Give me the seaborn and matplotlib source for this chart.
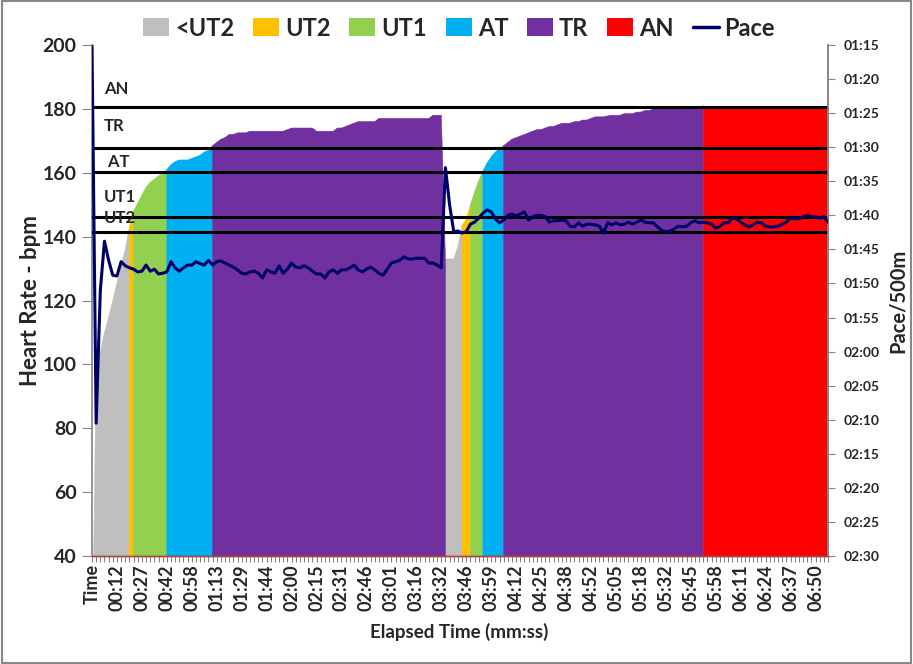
import numpy as np
import pandas as pd
import matplotlib
matplotlib.use("Agg")
import matplotlib.pyplot as plt
from matplotlib.patches import Patch, Rectangle
from matplotlib.lines import Line2D
import seaborn as sns

# Style
sns.set_theme(style="white")
plt.rcParams['font.family'] = ['Lato', 'DejaVu Sans']
plt.rcParams['font.weight'] = 'bold'
plt.rcParams['axes.labelweight'] = 'bold'

# Heart rate per stroke (bpm)
hr = [0, 99, 104, 110, 115, 120, 125.5, 131, 136, 143,
      148, 150.5, 153, 155.5, 157, 158, 159, 160, 161, 162.5,
      163.5, 164, 164, 164, 164.5, 165, 165.5, 166.5, 167, 168.5,
      169.5, 170.5, 171, 172, 172, 172.5, 172.5, 172.5, 173, 173,
      173, 173, 173, 173, 173, 173, 173, 173.5, 174, 174,
      174, 174, 174, 174, 173, 173, 173, 173, 173, 174,
      174, 174.5, 175, 175.5, 176, 176, 176, 176, 176, 177,
      177, 177, 177, 177, 177, 177, 177, 177, 177, 177,
      177, 177, 178, 178, 178, 133, 133, 133, 137, 143.5,
      145.5, 150, 154, 157.5, 160.5, 163, 165, 166.5, 167.5, 168.5,
      169.5, 170.5, 171, 171.5, 172, 172.5, 173, 173.5, 173.5, 174,
      174.5, 174.5, 175, 175.5, 175.5, 175.5, 176, 176, 176.5, 176.5,
      177, 177.5, 177.5, 177.5, 177.8, 178, 178, 178, 178.5, 178.5,
      178.5, 179, 179, 179.5, 179.5, 180, 180, 180, 180, 180,
      180, 180, 180, 180, 180, 180, 180, 181, 181, 181,
      181, 181, 181, 181, 181, 181, 181, 181, 181, 181,
      181, 181, 181, 181, 181, 181, 181, 181, 181, 181,
      181, 181, 181, 181, 181, 181, 181, 181]

# Pace per stroke (seconds / 500m)
pace = [75, 130.5, 111, 103.8, 106.6, 108.8, 108.9, 106.8, 107.4, 107.7,
        107.9, 108.3, 108.2, 107.3, 108.2, 107.9, 108.6, 108.5, 108.3, 106.8,
        107.7, 108.2, 107.7, 107.3, 107.3, 106.8, 107.1, 107.3, 106.6, 107.3,
        106.8, 106.7, 107.0, 107.3, 107.6, 108.0, 108.5, 108.6, 108.3, 108.2,
        108.5, 109.2, 108.0, 108.3, 108.5, 107.4, 108.5, 107.9, 107.0, 107.6,
        107.7, 107.4, 107.7, 108.2, 108.6, 108.6, 109.2, 108.3, 108.0, 108.5,
        108.0, 108.0, 107.7, 107.3, 108.0, 108.3, 107.9, 107.6, 108.0, 108.5,
        108.8, 107.9, 107.0, 106.8, 106.6, 106.1, 106.4, 106.4, 106.3, 106.3,
        106.3, 107.0, 107.0, 107.3, 107.7, 93.0, 98.5, 102.4, 102.3, 102.6,
        102.4, 101.3, 101.0, 100.4, 99.7, 99.2, 99.5, 100.5, 101.1, 100.7,
        100.0, 99.8, 100.1, 99.8, 99.5, 100.7, 100.2, 100.0, 100.0, 100.2,
        101.0, 100.8, 100.8, 100.7, 100.8, 101.6, 101.7, 101.1, 101.6, 101.3,
        101.3, 101.4, 101.6, 102.6, 101.1, 101.4, 101.1, 101.4, 101.3, 101.0,
        101.3, 101.0, 100.7, 101.0, 101.1, 101.1, 101.7, 102.2, 102.4, 102.3,
        102.0, 101.6, 101.7, 101.6, 101.1, 100.8, 101.1, 101.0, 101.1, 101.3,
        101.9, 101.6, 101.1, 101.1, 100.4, 100.5, 101.0, 101.4, 101.7, 101.4,
        101.0, 101.1, 101.6, 101.7, 101.7, 101.6, 101.3, 101.0, 100.4, 100.5,
        100.5, 100.2, 100.0, 100.2, 100.2, 100.4, 100.2, 101.0]

time_labels = ["Time", "00:12", "00:27", "00:42", "00:58", "01:13", "01:29", "01:44",
               "02:00", "02:15", "02:31", "02:46", "03:01", "03:16", "03:32", "03:46",
               "03:59", "04:12", "04:25", "04:38", "04:52", "05:05", "05:18", "05:32",
               "05:45", "05:58", "06:11", "06:24", "06:37", "06:50"]
label_step = 6

zone_names = ["<UT2", "UT2", "UT1", "AT", "TR", "AN"]
zone_colors = ["#bfbfbf", "#ffc000", "#92d050", "#00b0f0", "#7030a0", "#ff0000"]
zone_limits = [141.5, 146, 160.3, 167.8, 180.5]
zone_text = ["UT2", "UT1", " AT", "TR", "AN"]
zone_text_y = [145.9, 152.4, 163.4, 174.6, 186.2]

df = pd.DataFrame({"idx": np.arange(len(hr)), "hr": hr, "pace": pace})
df["zone"] = np.digitize(df["hr"], zone_limits)

fig = plt.figure(figsize=(9.13, 6.64), dpi=100)
ax = fig.add_axes([92/913, 1-556/664, 736/913, 511/664])
ax2 = ax.twinx()

# Zone areas: each segment takes the colour of the zone it starts in
prev_zone = df["zone"].shift(1)
for k, col in enumerate(zone_colors):
    mask = (df["zone"] == k) | (prev_zone == k)
    ax.fill_between(df["idx"], 0, df["hr"], where=mask, color=col,
                    lw=0.4, edgecolor=col, zorder=1)

for lim in zone_limits:
    ax.axhline(lim, color="black", lw=2.2, zorder=3)
for t, yv in zip(zone_text, zone_text_y):
    ax.text(2.9, yv, t, fontsize=12, fontweight="bold", va="center", ha="left", zorder=4)

ax.set_xlim(0, len(hr) - 1)
ax.set_ylim(40, 200)
ax.set_yticks(range(40, 201, 20))
ax.set_xticks(np.arange(0, len(time_labels) * label_step, label_step))
ax.set_xticklabels(time_labels, rotation=90, fontsize=13, fontweight="bold")
ax.set_xticks(np.arange(len(hr)), minor=True)
ax.tick_params(axis="x", which="both", direction="out", length=4, width=0.8,
               color="#868686", bottom=True, pad=2)
ax.tick_params(axis="y", direction="out", length=7, width=0.8, color="#868686",
               labelsize=14, pad=4, left=True)
for lab in ax.get_yticklabels():
    lab.set_fontweight("bold")
ax.grid(False)

# Pace on secondary axis
sns.lineplot(x=df["idx"], y=df["pace"], ax=ax2, color="#000066", lw=2.2,
             legend=False, zorder=5)
ax2.set_ylim(150, 75)
ax2.set_yticks(range(75, 151, 5))
ax2.set_yticklabels([f"{v // 60:02d}:{v % 60:02d}" for v in range(75, 151, 5)],
                    fontsize=10, fontweight="bold")
ax2.tick_params(axis="y", direction="out", length=5, width=0.8, color="#868686",
                pad=6, right=True)
ax2.grid(False)
ax2.set_xlabel("")

for a in (ax, ax2):
    a.spines["top"].set_visible(False)
    a.spines["left"].set_color("#868686")
    a.spines["right"].set_color("#868686")
    a.spines["bottom"].set_color("#b04040")
    a.spines["bottom"].set_linewidth(1.0)
ax2.spines["left"].set_visible(False)

ax.set_ylabel("Heart Rate - bpm", fontsize=16, fontweight="bold")
ax.yaxis.set_label_coords(-0.084, 0.5)
ax.yaxis.label.set_va("center")
ax.set_xlabel("Elapsed Time (mm:ss)", fontsize=13.5, fontweight="bold")
ax.xaxis.set_label_coords(0.499, -0.149)
ax.xaxis.label.set_va("center")
ax2.set_ylabel("Pace/500m", fontsize=14.5, fontweight="bold")
ax2.yaxis.set_label_coords(1.095, 0.5)
ax2.yaxis.label.set_va("center")

handles = [Patch(facecolor=c, edgecolor="none") for c in zone_colors]
handles.append(Line2D([0], [0], color="#000066", lw=2.5))
fig.legend(handles, zone_names + ["Pace"], loc="center",
           bbox_to_anchor=(459/913, 1 - 28/664), ncol=7, frameon=False,
           prop={"size": 17, "weight": "bold"}, handlelength=1.1, handleheight=0.8,
           columnspacing=0.8, handletextpad=0.25)

fig.add_artist(Rectangle((0.002, 0.002), 0.996, 0.996, transform=fig.transFigure,
                         fill=False, edgecolor="#888888", lw=1.5))

fig.savefig("out.png", dpi=100)
